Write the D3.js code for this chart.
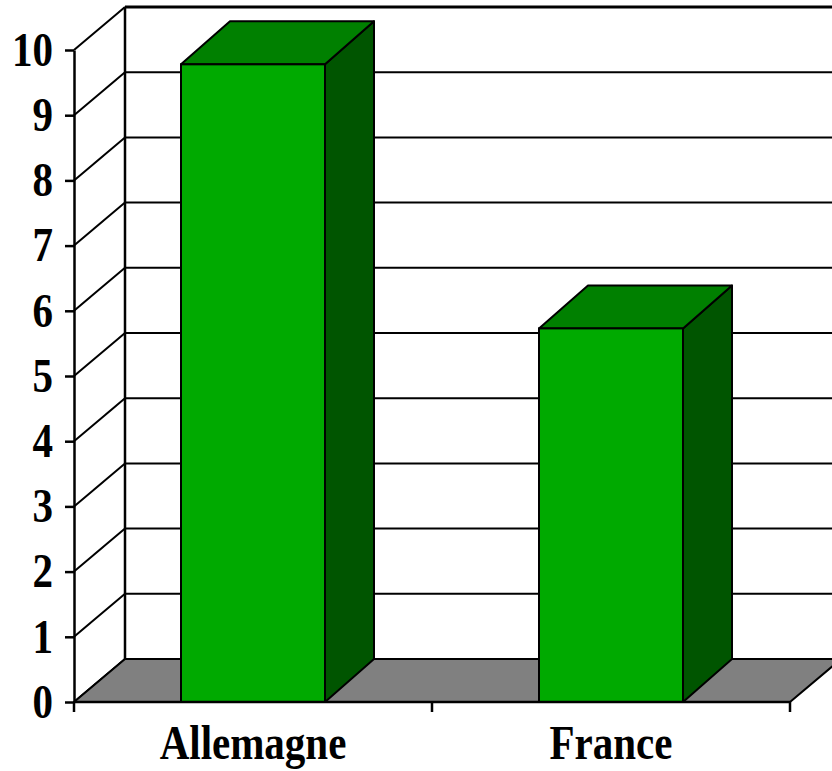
<!DOCTYPE html>
<html>
<head>
<meta charset="utf-8">
<script src="https://cdn.jsdelivr.net/npm/d3@7"></script>
<style>
  html, body { margin: 0; padding: 0; background: #fff; overflow: hidden; }
  svg { display: block; }
  text { font-family: "Liberation Serif", "Times New Roman", serif; font-weight: bold; fill: #000; }
</style>
</head>
<body>
<svg id="chart" width="832" height="771"></svg>
<script>
// ---- data ----
const categories = ["Allemagne", "France"];
const values = [9.78, 5.73];
const yTicks = [0, 1, 2, 3, 4, 5, 6, 7, 8, 9, 10];

// ---- layout ----
const W = 832, H = 771;
const svg = d3.select("#chart");
const depthX = 51, depthY = -43;      // wall depth offset
const barDX = 49, barDY = -43;        // bar depth offset
const fontSize = 41, stretch = 1.16;

const y = d3.scaleLinear().domain([0, 10]).range([702, 50]);
const x = d3.scaleBand().domain(categories).range([74, 790]).padding(0);
const barW = 144;
const barX = c => x(c) + (x.bandwidth() - barW) / 2;

const x0 = x.range()[0], x1 = x.range()[1];

// back wall gridlines
svg.append("g").selectAll("line").data(yTicks.slice(1)).join("line")
  .attr("x1", x0 + depthX).attr("x2", W + 20)
  .attr("y1", d => y(d) + depthY).attr("y2", d => y(d) + depthY)
  .attr("stroke", "#000").attr("stroke-width", d => d === 10 ? 3 : 2);

// left wall diagonal gridlines
svg.append("g").selectAll("line").data(yTicks).join("line")
  .attr("x1", x0).attr("y1", d => y(d))
  .attr("x2", x0 + depthX).attr("y2", d => y(d) + depthY)
  .attr("stroke", "#000").attr("stroke-width", 2);

// back wall left vertical edge
svg.append("line")
  .attr("x1", x0 + depthX).attr("x2", x0 + depthX)
  .attr("y1", y(10) + depthY).attr("y2", y(0) + depthY)
  .attr("stroke", "#000").attr("stroke-width", 2.5);

// floor
svg.append("path")
  .attr("d", `M${x0},${y(0)}L${x1},${y(0)}L${x1 + depthX},${y(0) + depthY}L${x0 + depthX},${y(0) + depthY}Z`)
  .attr("fill", "#808080").attr("stroke", "#000").attr("stroke-width", 2).attr("stroke-linejoin", "round");

// bars
const bars = svg.append("g").selectAll("g").data(categories.map((c, i) => ({ c, v: values[i] }))).join("g");
bars.append("path") // side
  .attr("d", d => {
    const xr = barX(d.c) + barW, yt = y(d.v), yb = y(0);
    return `M${xr},${yb}L${xr + barDX},${yb + barDY}L${xr + barDX},${yt + barDY}L${xr},${yt}Z`;
  })
  .attr("fill", "#005500").attr("stroke", "#000").attr("stroke-width", 2).attr("stroke-linejoin", "round");
bars.append("path") // top
  .attr("d", d => {
    const xl = barX(d.c), xr = xl + barW, yt = y(d.v);
    return `M${xl},${yt}L${xl + barDX},${yt + barDY}L${xr + barDX},${yt + barDY}L${xr},${yt}Z`;
  })
  .attr("fill", "#008000").attr("stroke", "#000").attr("stroke-width", 2).attr("stroke-linejoin", "round");
bars.append("rect") // front
  .attr("x", d => barX(d.c)).attr("y", d => y(d.v))
  .attr("width", barW).attr("height", d => y(0) - y(d.v))
  .attr("fill", "#00AA00").attr("stroke", "#000").attr("stroke-width", 2);

// y axis (front)
const yAxis = svg.append("g").attr("transform", `translate(${x0},0)`)
  .call(d3.axisLeft(y).tickValues(yTicks).tickSize(9).tickSizeOuter(0).tickPadding(12).tickFormat(d3.format("d")));
yAxis.select(".domain").attr("stroke-width", 2.5);
yAxis.selectAll(".tick line").attr("stroke-width", 2.5);
yAxis.selectAll(".tick text")
  .attr("font-size", fontSize)
  .style("font-family", '"Liberation Serif", "Times New Roman", serif')
  .style("font-weight", "bold")
  .attr("transform", `scale(1,${stretch})`);

// x axis baseline and boundary ticks
svg.append("line").attr("x1", x0).attr("x2", x1).attr("y1", y(0)).attr("y2", y(0))
  .attr("stroke", "#000").attr("stroke-width", 2.5);
const bounds = [x0, ...categories.slice(1).map(c => x(c)), x1];
svg.append("g").selectAll("line").data(bounds).join("line")
  .attr("x1", d => d).attr("x2", d => d).attr("y1", y(0)).attr("y2", y(0) + 10)
  .attr("stroke", "#000").attr("stroke-width", 2.5);

// category labels
svg.append("g").selectAll("text").data(categories).join("text")
  .attr("transform", d => `translate(${x(d) + x.bandwidth() / 2},759) scale(1,${stretch})`)
  .attr("text-anchor", "middle")
  .attr("font-size", fontSize)
  .text(d => d);
</script>
</body>
</html>
